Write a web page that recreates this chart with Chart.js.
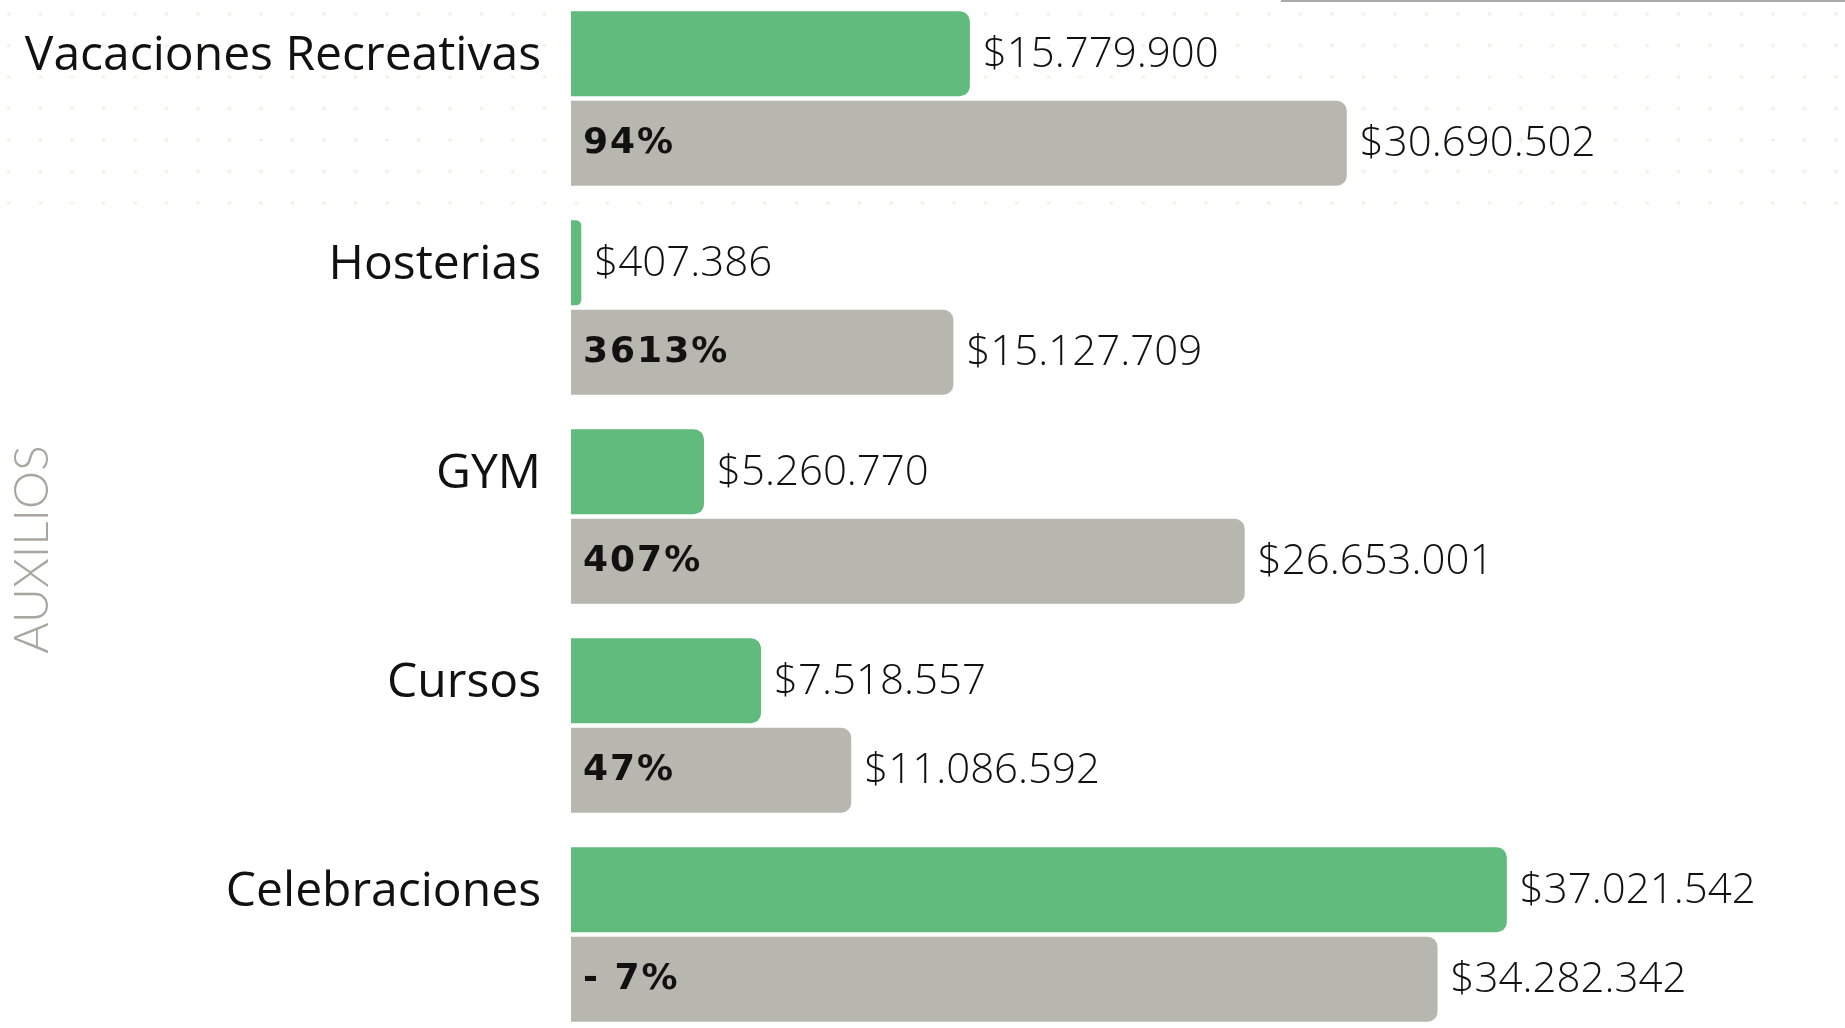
<!DOCTYPE html>
<html>
<head>
<meta charset="utf-8">
<script src="https://cdn.jsdelivr.net/npm/chart.js@4/dist/chart.umd.min.js"></script>
<style>
  html, body { margin: 0; padding: 0; background: #fff; overflow: hidden; }
  #wrap { position: absolute; left: 0; top: -6px; width: 1845px; height: 1045px; }
</style>
</head>
<body>
<div id="wrap"><canvas id="auxiliosChart"></canvas></div>
<script>
// categorias y valores (verde = periodo anterior, gris = periodo actual)
const categorias = ["Vacaciones Recreativas", "Hosterias", "GYM", "Cursos", "Celebraciones"];
const periodoAnterior = [15779900, 407386, 5260770, 7518557, 37021542];
const periodoActual = [30690502, 15127709, 26653001, 11086592, 34282342];
const variaciones = ["94%", "3613%", "407%", "47%", "- 7%"];

const VERDE = "#60bb7d";
const GRIS = "#b7b7af";

// formato $15.779.900
function pesos(n) {
  return "$" + String(n).replace(/\B(?=(\d{3})+(?!\d))/g, ".");
}

// fondo con puntitos y la linea gris de arriba
const fondo = {
  id: "fondo",
  afterLayout(chart) {
    // el titulo del eje queda un poco mas abajo que el centro
    const y = chart.scales.y;
    y.top += 33;
    y.bottom += 33;
  },
  beforeDraw(chart) {
    const ctx = chart.ctx;
    ctx.save();
    ctx.fillStyle = "#f2f4e6";
    for (let y = 20; y < 210; y += 31.5) {
      for (let x = 9; x < chart.width; x += 31.5) {
        ctx.beginPath();
        ctx.arc(x, y, 2, 0, Math.PI * 2);
        ctx.fill();
      }
    }
    ctx.fillStyle = "#aaaaaa";
    ctx.fillRect(1281, 0, chart.width - 1281, 8);
    ctx.restore();
  },
};

// etiquetas de valor al final de cada barra y % dentro de la gris
const etiquetas = {
  id: "etiquetas",
  afterDatasetsDraw(chart) {
    const ctx = chart.ctx;
    ctx.save();
    ctx.textBaseline = "middle";
    ctx.textAlign = "left";
    chart.data.datasets.forEach((ds, i) => {
      const meta = chart.getDatasetMeta(i);
      meta.data.forEach((bar, j) => {
        ctx.fillStyle = "#111";
        ctx.font = "300 42px 'Open Sans'";
        ctx.fillText(pesos(ds.data[j]), bar.x + 13, bar.y + 1);
        if (i === 1) {
          ctx.font = "bold 36px 'DejaVu Sans'";
          ctx.letterSpacing = "2px";
          ctx.fillText(variaciones[j], chart.chartArea.left + 12, bar.y);
          ctx.letterSpacing = "0px";
        }
      });
    });
    ctx.restore();
  },
};

const config = {
  type: "bar",
  data: {
    labels: categorias,
    datasets: [
      {
        data: periodoAnterior,
        backgroundColor: VERDE,
        borderRadius: 10,
        borderSkipped: "start",
        clip: false,
      },
      {
        data: periodoActual,
        backgroundColor: GRIS,
        borderRadius: 10,
        borderSkipped: "start",
        clip: false,
      },
    ],
  },
  options: {
    indexAxis: "y",
    responsive: true,
    maintainAspectRatio: false,
    animation: false,
    categoryPercentage: 0.856,
    barPercentage: 0.95,
    layout: { padding: 0 },
    plugins: {
      legend: { display: false },
      tooltip: { enabled: false },
    },
    scales: {
      x: {
        display: false,
        min: 0,
        max: 50400000,
      },
      y: {
        grid: { display: false },
        border: { display: false },
        ticks: {
          color: "#111",
          font: { family: "'Open Sans'", size: 48 },
          padding: 22,
          labelOffset: -42,
        },
        title: {
          display: true,
          text: "AUXILIOS",
          color: "#a8a69e",
          font: { family: "Lato", size: 48, weight: 300 },
          padding: { top: 4, bottom: 0 },
        },
        afterFit(scale) {
          // el area de barras empieza en x=571 y ocupa todo el alto
          scale.width = 571;
          scale.paddingTop = 0;
          scale.paddingBottom = 0;
        },
      },
    },
  },
  plugins: [fondo, etiquetas],
};

const myChart = new Chart(document.getElementById("auxiliosChart"), config);
</script>
</body>
</html>
